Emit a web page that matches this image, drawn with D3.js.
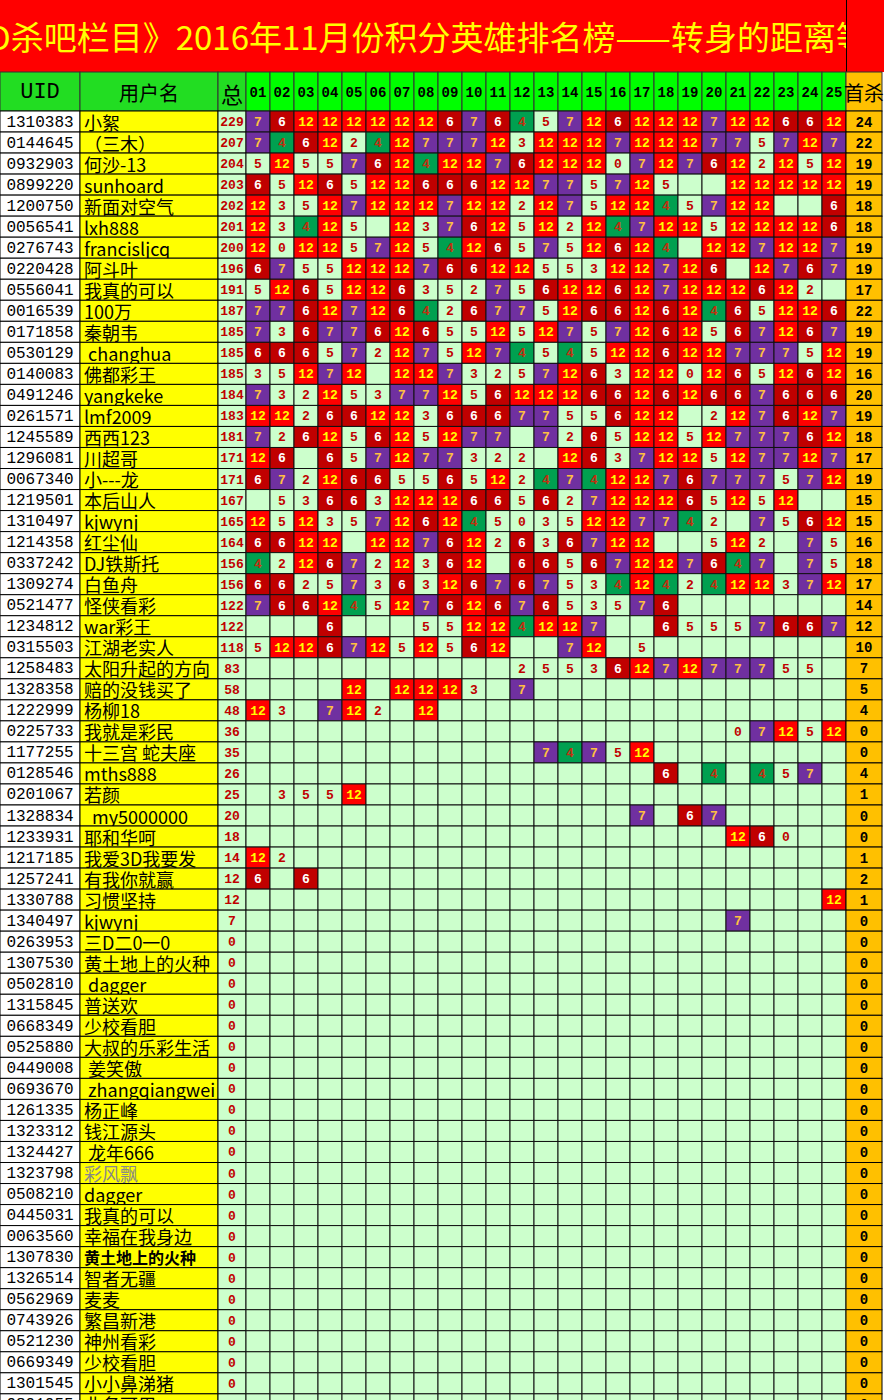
<!DOCTYPE html>
<html><head><meta charset="utf-8">
<script src="https://cdn.jsdelivr.net/npm/d3@7/dist/d3.min.js"></script>
<style>body{margin:0;background:#fff;overflow:hidden}svg{display:block}</style>
</head><body>
<script>
const titleText = "《3D杀吧栏目》2016年11月份积分英雄排名榜——转身的距离等你";
const days = ["01","02","03","04","05","06","07","08","09","10","11","12","13","14","15","16","17","18","19","20","21","22","23","24","25"];
const uids = ["1310383","0144645","0932903","0899220","1200750","0056541","0276743","0220428","0556041","0016539","0171858","0530129","0140083","0491246","0261571","1245589","1296081","0067340","1219501","1310497","1214358","0337242","1309274","0521477","1234812","0315503","1258483","1328358","1222999","0225733","1177255","0128546","0201067","1328834","1233931","1217185","1257241","1330788","1340497","0263953","1307530","0502810","1315845","0668349","0525880","0449008","0693670","1261335","1323312","1324427","1323798","0508210","0445031","0063560","1307830","1326514","0562969","0743926","0521230","0669349","1301545","0801055"];
const names = ["小絮","（三木）","何沙-13","sunhoard","新面对空气","lxh888","francisljcq","阿斗叶","我真的可以","100万","秦朝韦"," changhua","佛都彩王","yangkeke","lmf2009","西西123","川超哥","小---龙","本后山人","kjwynj","红尘仙","DJ铁斯托","白鱼舟","怪侠看彩","war彩王","江湖老实人","太阳升起的方向","赔的没钱买了","杨柳18","我就是彩民","十三宫 蛇夫座","mths888","若颜","  my5000000","耶和华呵","我爱3D我要发","有我你就赢","习惯坚持","kjwynj","三D二0一0","黄土地上的火种"," dagger","普送欢","少校看胆","大叔的乐彩生活"," 姜笑傲"," zhangqiangwei","杨正峰","钱江源头"," 龙年666","彩风飘","dagger","我真的可以","幸福在我身边","黄土地上的火种","智者无疆","麦麦","繁昌新港","神州看彩","少校看胆","小小鼻涕猪","业务可用"];
const totals = [229,207,204,203,202,201,200,196,191,187,185,185,185,184,183,181,171,171,167,165,164,156,156,122,122,118,83,58,48,36,35,26,25,20,18,14,12,12,7,0,0,0,0,0,0,0,0,0,0,0,0,0,0,0,0,0,0,0,0,0,0,0];
const firstKills = [24,22,19,19,18,18,19,19,17,22,19,19,16,20,19,18,17,19,15,15,16,18,17,14,12,10,7,5,4,0,0,4,1,0,0,1,2,1,0,0,0,0,0,0,0,0,0,0,0,0,0,0,0,0,0,0,0,0,0,0,0,0];
const scoreRows = [
"7,6,12,12,12,12,12,12,6,7,6,4,5,7,12,6,12,12,12,7,12,12,6,6,12",
"7,4,6,12,2,4,12,7,7,7,12,3,12,12,12,7,12,12,12,7,7,5,7,12,7",
"5,12,5,5,7,6,12,4,12,12,7,6,12,12,12,0,7,12,7,6,12,2,12,5,12",
"6,5,12,6,5,12,12,6,6,6,12,12,7,7,5,7,12,5,,,12,12,12,12,12",
"12,3,5,12,7,12,12,12,7,12,12,2,12,7,5,12,12,4,5,7,12,12,,,6",
"12,3,4,12,5,,12,3,7,6,12,5,12,2,12,4,7,12,12,5,12,12,12,12,6",
"12,0,12,12,5,7,12,5,4,12,6,5,7,5,12,6,12,4,,12,12,7,12,12,7",
"6,7,5,5,12,12,12,7,6,6,12,12,5,5,3,12,12,7,12,6,,12,7,6,7",
"5,12,6,5,12,12,6,3,5,2,7,5,6,12,12,6,12,7,12,12,12,6,12,2,",
"7,7,6,12,7,12,6,4,2,6,7,7,5,12,6,6,12,6,12,4,6,5,12,12,6",
"7,3,6,7,7,6,12,6,5,5,12,5,12,7,5,7,12,6,12,5,6,7,12,6,7",
"6,6,6,5,7,2,12,7,5,12,7,4,5,4,5,12,12,6,12,12,7,7,7,5,12",
"3,5,12,7,12,,12,12,7,3,2,5,7,12,6,3,12,12,0,12,6,5,12,6,12",
"7,3,2,12,5,3,7,7,12,5,6,12,12,12,6,6,12,6,12,6,6,7,6,6,6",
"12,12,2,6,6,12,12,3,6,6,6,7,7,5,5,6,12,12,,2,12,7,6,12,7",
"7,2,6,12,5,6,12,5,12,7,7,,7,2,6,5,12,12,5,12,7,7,7,6,12",
"12,6,,6,5,7,12,7,7,3,2,2,,12,6,3,7,12,12,5,12,7,7,12,7",
"6,7,2,12,6,6,5,5,6,5,12,2,4,7,4,12,12,7,6,7,7,7,5,7,12",
",5,3,6,6,3,12,12,12,6,6,5,6,2,7,12,12,12,6,5,12,5,12,,",
"12,5,12,3,5,7,12,6,12,4,5,0,3,5,12,12,7,7,4,2,,7,5,6,12",
"6,6,12,12,,12,12,7,6,12,2,6,3,6,7,12,12,,,5,12,2,,7,5",
"4,2,12,6,7,2,12,3,6,12,,6,6,5,6,7,12,12,7,6,4,7,,7,5",
"6,6,2,5,7,3,6,3,12,6,7,6,7,5,3,4,12,4,2,4,12,12,3,7,12",
"7,6,6,12,4,5,12,7,6,12,6,7,6,5,3,5,7,6,,,,,,,",
",,,6,,,,5,5,12,12,4,12,12,7,,,6,5,5,5,7,6,6,7",
"5,12,12,6,7,12,5,12,5,6,12,,,7,12,,5,,,,,,,,",
",,,,,,,,,,,2,5,5,3,6,12,7,12,7,7,7,5,5,",
",,,,12,,12,12,12,3,,7,,,,,,,,,,,,,",
"12,3,,7,12,2,,12,,,,,,,,,,,,,,,,,",
",,,,,,,,,,,,,,,,,,,,0,7,12,5,12",
",,,,,,,,,,,,7,4,7,5,12,,,,,,,,",
",,,,,,,,,,,,,,,,,6,,4,,4,5,7,",
",3,5,5,12,,,,,,,,,,,,,,,,,,,,",
",,,,,,,,,,,,,,,,7,,6,7,,,,,",
",,,,,,,,,,,,,,,,,,,,12,6,0,,",
"12,2,,,,,,,,,,,,,,,,,,,,,,,",
"6,,6,,,,,,,,,,,,,,,,,,,,,,",
",,,,,,,,,,,,,,,,,,,,,,,,12",
",,,,,,,,,,,,,,,,,,,,7,,,,"
];

const W = 884, H = 1400;
const svg = d3.select("body").append("svg").attr("width", W).attr("height", H);
const CJK = "'Noto Sans CJK SC','Noto Sans',sans-serif";
const MONO = "'Liberation Mono','DejaVu Sans Mono',monospace";

const nRows = uids.length;
const y = d3.scaleBand().domain(d3.range(nRows)).range([111, 111 + nRows * 21.03]);
const xDay = d3.scaleBand().domain(days).range([246, 846]);

// title
svg.append("rect").attr("x",0).attr("y",0).attr("width",W).attr("height",72).attr("fill","#ff0000");
svg.append("clipPath").attr("id","tc").append("rect").attr("x",0).attr("y",0).attr("width",846).attr("height",72);
const tt = svg.append("text").attr("clip-path","url(#tc)").attr("y",50).attr("fill","#ffff00")
  .attr("font-family",CJK).attr("font-size",33).text(titleText);
const pre = svg.append("text").attr("font-family",CJK).attr("font-size",33).text("《3").attr("opacity",0);
const pw = pre.node().getComputedTextLength(); pre.remove();
tt.attr("x", -pw - 12);
svg.append("line").attr("x1",846.5).attr("x2",846.5).attr("y1",0).attr("y2",72).attr("stroke","#000");

// header
const hy = 72, hh = 39;
const hdr = svg.append("g");
function hcell(x0,x1,fill,label,size,fam,weight){
  hdr.append("rect").attr("x",x0).attr("y",hy).attr("width",x1-x0).attr("height",hh).attr("fill",fill).attr("stroke","#333").attr("stroke-width",1);
  hdr.append("text").attr("x",(x0+x1)/2).attr("y",hy+hh/2+1).attr("text-anchor","middle").attr("dominant-baseline","central")
    .attr("font-family",fam).attr("font-size",size).attr("font-weight",weight||"normal").attr("fill","#000").text(label);
}
hcell(0,80,"#22dd22","UID",22,MONO);
hcell(80,218,"#22dd22","用户名",20,CJK);
hcell(218,246,"#22dd22","总",22,CJK);
days.forEach(d=>hcell(xDay(d),xDay(d)+xDay.bandwidth(),"#00ff00",d,14,MONO,"bold"));
hcell(846,882,"#ffc000","首杀",20,CJK);

function style(v){
  if (v===null) return {bg:"#ccffcc",fg:"#c00000"};
  if (v===12) return {bg:"#ff0000",fg:"#ffff00"};
  if (v===7) return {bg:"#7030a0",fg:"#ffc040"};
  if (v===6) return {bg:"#c00000",fg:"#ffffff"};
  if (v===4) return {bg:"#00a050",fg:"#c03010"};
  return {bg:"#ccffcc",fg:"#c00000"};
}
const scores = d3.range(nRows).map(i => {
  const s = scoreRows[i];
  if (!s) return days.map(()=>null);
  return s.split(",").map(t => t==="" ? null : +t);
});

const body = svg.append("g");
const bh = y.bandwidth();
d3.range(nRows).forEach(i=>{
  const y0 = y(i);
  const g = body.append("g");
  g.append("rect").attr("x",0).attr("y",y0).attr("width",80).attr("height",bh).attr("fill","#fff").attr("stroke","#000");
  g.append("text").attr("x",40).attr("y",y0+bh/2+1).attr("text-anchor","middle").attr("dominant-baseline","central")
    .attr("font-family",MONO).attr("font-size",16).attr("fill","#000").text(uids[i]);
  g.append("rect").attr("x",80).attr("y",y0).attr("width",138).attr("height",bh).attr("fill","#ffff00").attr("stroke","#000");
  const cid = "nc"+i;
  g.append("clipPath").attr("id",cid).append("rect").attr("x",81).attr("y",y0).attr("width",137).attr("height",bh);
  const special = i===54, grey = i===50;
  g.append("text").attr("clip-path",`url(#${cid})`).attr("x",84).attr("y",y0+bh/2).attr("dominant-baseline","central").style("white-space","pre")
    .attr("font-family",CJK).attr("font-size",special?16:18).attr("font-weight",special?"bold":"normal")
    .attr("fill",grey?"#888":"#000").text(names[i]);
  g.append("rect").attr("x",218).attr("y",y0).attr("width",28).attr("height",bh).attr("fill","#ccffcc").attr("stroke","#000");
  g.append("text").attr("x",232).attr("y",y0+bh/2+1).attr("text-anchor","middle").attr("dominant-baseline","central")
    .attr("font-family",MONO).attr("font-size",13).attr("font-weight","bold").attr("fill","#c00000").text(totals[i]);
  scores[i].forEach((v,k)=>{
    const st = style(v), x0 = xDay(days[k]);
    g.append("rect").attr("x",x0).attr("y",y0).attr("width",xDay.bandwidth()).attr("height",bh).attr("fill",st.bg).attr("stroke","#111");
    if (v!==null) g.append("text").attr("x",x0+xDay.bandwidth()/2).attr("y",y0+bh/2+1).attr("text-anchor","middle").attr("dominant-baseline","central")
      .attr("font-family",MONO).attr("font-size",13).attr("font-weight","bold").attr("fill",st.fg).text(v);
  });
  g.append("rect").attr("x",846).attr("y",y0).attr("width",36).attr("height",bh).attr("fill","#ffc000").attr("stroke","#000");
  g.append("text").attr("x",864).attr("y",y0+bh/2+1).attr("text-anchor","middle").attr("dominant-baseline","central")
    .attr("font-family",MONO).attr("font-size",14).attr("font-weight","bold").attr("fill","#000").text(firstKills[i]);
});
</script>
</body></html>
